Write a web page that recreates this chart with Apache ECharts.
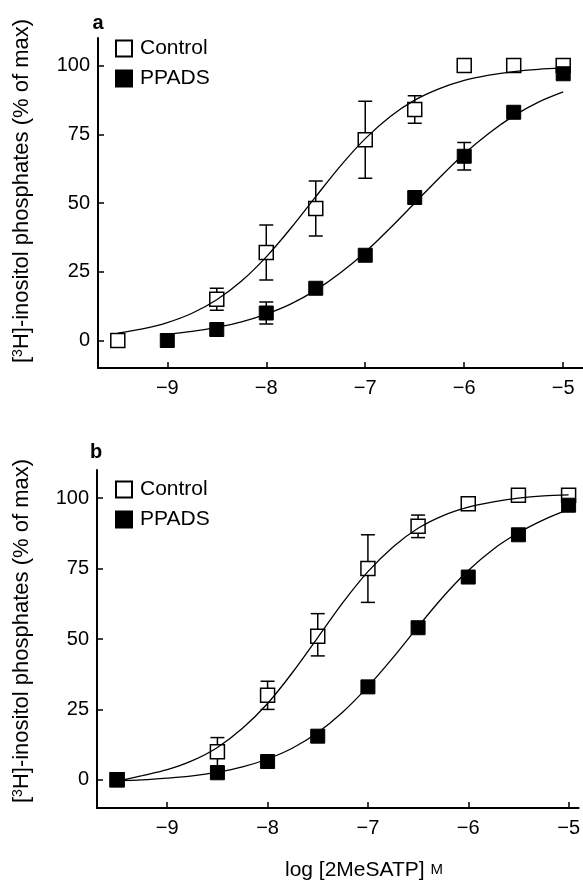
<!DOCTYPE html>
<html>
<head>
<meta charset="utf-8">
<script src="https://cdn.jsdelivr.net/npm/echarts@6/dist/echarts.min.js"></script>
<style>
  html, body { margin: 0; padding: 0; background: #fff; }
  #chart { width: 583px; height: 881px; }
</style>
</head>
<body>
<div id="chart"></div>
<script>
const FONT = '"Liberation Sans", Arial, sans-serif';

// tick labels
const xTicks = [-9, -8, -7, -6, -5];
const yTicks = [0, 25, 50, 75, 100];

// panel a: measured points
const ctrlAX = [-9.5, -8.5, -8, -7.5, -7, -6.5, -6, -5.5, -5];
const ctrlAY = [0, 15, 32, 48, 73, 84, 100, 100, 100];
const ctrlAErr = [[-8.5, 11, 19], [-8, 22, 42], [-7.5, 38, 58], [-7, 59, 87], [-6.5, 79, 89]];
const ppadsAX = [-9, -8.5, -8, -7.5, -7, -6.5, -6, -5.5, -5];
const ppadsAY = [0, 4, 10, 19, 31, 52, 67, 83, 97];
const ppadsAErr = [[-8, 6, 14], [-6, 62, 72]];

// panel a: fitted curves
const fitCtrlAX = [-9.5, -9.25, -9, -8.75, -8.5, -8.25, -8, -7.75, -7.5, -7.25, -7, -6.75, -6.5, -6.25, -6, -5.75, -5.5, -5.25, -5];
const fitCtrlAY = [2.7, 4.2, 6.5, 9.9, 14.8, 21.6, 30.4, 40.9, 52.3, 63.5, 73.4, 81.4, 87.4, 91.6, 94.6, 96.5, 97.8, 98.6, 99.1];
const fitPpadsAX = [-9, -8.75, -8.5, -8.25, -8, -7.75, -7.5, -7.25, -7, -6.75, -6.5, -6.25, -6, -5.75, -5.5, -5.25, -5];
const fitPpadsAY = [2.3, 3.3, 4.8, 6.8, 9.6, 13.3, 18.3, 24.6, 32.1, 40.8, 50, 59.2, 67.9, 75.4, 81.7, 86.7, 90.4];

// panel b: measured points
const ctrlBX = [-9.5, -8.5, -8, -7.5, -7, -6.5, -6, -5.5, -5];
const ctrlBY = [0, 10, 30, 51, 75, 90, 98, 101, 101];
const ctrlBErr = [[-8.5, 5, 15], [-8, 25, 35], [-7.5, 44, 59], [-7, 63, 87], [-6.5, 86, 94]];
const ppadsBX = [-9.5, -8.5, -8, -7.5, -7, -6.5, -6, -5.5, -5];
const ppadsBY = [0, 2.5, 6.5, 15.5, 33, 54, 72, 87, 97.5];
const ppadsBErr = [];

// panel b: fitted curves
const fitCtrlBX = [-9.5, -9.25, -9, -8.75, -8.5, -8.25, -8, -7.75, -7.5, -7.25, -7, -6.75, -6.5, -6.25, -6, -5.75, -5.5, -5.25, -5];
const fitCtrlBY = [-0.5, 1.5, 3.6, 6.8, 11.5, 18.3, 27.1, 38.2, 50.5, 62.9, 73.9, 82.7, 89.3, 93.8, 96.8, 98.7, 100, 100.8, 101.2];
const fitPpadsBX = [-9.5, -9.25, -9, -8.75, -8.5, -8.25, -8, -7.75, -7.5, -7.25, -7, -6.75, -6.5, -6.25, -6, -5.75, -5.5, -5.25, -5];
const fitPpadsBY = [-0.3, 0.0, 0.6, 1.4, 2.7, 4.6, 7.4, 11.3, 16.8, 24.1, 33.1, 43.4, 54.4, 65, 74.3, 81.9, 87.7, 92.3, 96];

const zip = (xs, ys) => xs.map((x, i) => [x, ys[i]]);

const mkX = (gi, min, max) => ({
  type: 'value', gridIndex: gi, min, max,
  axisLine: { onZero: false, lineStyle: { color: '#000', width: 2 } },
  axisTick: { inside: true, length: 6, customValues: xTicks, lineStyle: { color: '#000', width: 1.5 } },
  axisLabel: {
    customValues: xTicks, fontSize: 20, color: '#000', margin: 10, fontFamily: FONT,
    formatter: (v) => '\u2212' + Math.abs(v)
  },
  splitLine: { show: false }
});

const mkY = (gi) => ({
  type: 'value', gridIndex: gi, min: -10, max: 110,
  axisLine: { onZero: false, lineStyle: { color: '#000', width: 2 } },
  axisTick: { inside: true, length: 6, customValues: yTicks, lineStyle: { color: '#000', width: 1.5 } },
  axisLabel: { customValues: yTicks, fontSize: 20, color: '#000', margin: 8, fontFamily: FONT },
  splitLine: { show: false }
});

const mkLegend = (top) => ({
  data: ['Control', 'PPADS'],
  orient: 'vertical', left: 115, top,
  itemWidth: 16, itemHeight: 16, itemGap: 9, padding: 0,
  selectedMode: false,
  textStyle: { fontSize: 21, color: '#000', fontFamily: FONT, padding: [0, 0, 0, 3] }
});

const errBars = (gi, data) => ({
  type: 'custom', xAxisIndex: gi, yAxisIndex: gi, z: 2,
  data,
  renderItem: (params, api) => {
    const x = api.value(0);
    const lo = api.coord([x, api.value(1)]);
    const hi = api.coord([x, api.value(2)]);
    const w = 7;
    const st = { stroke: '#000', lineWidth: 1.5 };
    return {
      type: 'group',
      children: [
        { type: 'line', shape: { x1: lo[0], y1: lo[1], x2: hi[0], y2: hi[1] }, style: st },
        { type: 'line', shape: { x1: lo[0] - w, y1: lo[1], x2: lo[0] + w, y2: lo[1] }, style: st },
        { type: 'line', shape: { x1: hi[0] - w, y1: hi[1], x2: hi[0] + w, y2: hi[1] }, style: st }
      ]
    };
  }
});

const fit = (gi, xs, ys) => ({
  type: 'line', xAxisIndex: gi, yAxisIndex: gi, z: 6,
  data: zip(xs, ys), smooth: 0.3, symbol: 'none',
  lineStyle: { color: '#000', width: 1.3 }
});

const pts = (gi, name, xs, ys, filled) => ({
  type: 'scatter', name, xAxisIndex: gi, yAxisIndex: gi, z: filled ? 5 : 4,
  data: zip(xs, ys), symbol: 'rect', symbolSize: 14,
  itemStyle: filled
    ? { color: '#000', borderColor: '#000', borderWidth: 1, opacity: 1 }
    : { color: '#fff', borderColor: '#000', borderWidth: 1.5, opacity: 1 }
});

const textStyle = (text, size, extra) => Object.assign({
  text, fontSize: size, fontFamily: FONT, fill: '#000',
  align: 'center', verticalAlign: 'middle',
  textAlign: 'center', textVerticalAlign: 'middle'
}, extra || {});

const yTitle = '[{sup|3}H]-inositol phosphates (% of max)';
const supRich = { sup: { fontSize: 14, verticalAlign: 'top', fontFamily: FONT, fill: '#000' } };

const option = {
  animation: false,
  backgroundColor: '#fff',
  grid: [
    { left: 98, top: 38, width: 485, height: 330 },
    { left: 97, top: 470, width: 486, height: 338 }
  ],
  xAxis: [mkX(0, -9.7, -4.8), mkX(1, -9.7, -4.9)],
  yAxis: [mkY(0), mkY(1)],
  legend: [mkLegend(38), mkLegend(479)],
  graphic: [
    { type: 'text', x: 98, y: 23, style: textStyle('a', 20, { fontWeight: 'bold' }) },
    { type: 'text', x: 96, y: 452, style: textStyle('b', 20, { fontWeight: 'bold' }) },
    { type: 'text', x: 22, y: 191, rotation: Math.PI / 2, style: textStyle(yTitle, 22, { rich: supRich }) },
    { type: 'text', x: 22, y: 631, rotation: Math.PI / 2, style: textStyle(yTitle, 22, { rich: supRich }) },
    { type: 'text', x: 364, y: 870, style: textStyle('log [2MeSATP] {sc|M}', 21, { rich: { sc: { fontSize: 15, fontFamily: FONT, fill: '#000' } } }) }
  ],
  series: [
    errBars(0, ctrlAErr),
    errBars(0, ppadsAErr),
    fit(0, fitCtrlAX, fitCtrlAY),
    fit(0, fitPpadsAX, fitPpadsAY),
    pts(0, 'Control', ctrlAX, ctrlAY, false),
    pts(0, 'PPADS', ppadsAX, ppadsAY, true),

    errBars(1, ctrlBErr),
    errBars(1, ppadsBErr),
    fit(1, fitCtrlBX, fitCtrlBY),
    fit(1, fitPpadsBX, fitPpadsBY),
    pts(1, 'Control', ctrlBX, ctrlBY, false),
    pts(1, 'PPADS', ppadsBX, ppadsBY, true)
  ]
};

const chart = echarts.init(document.getElementById('chart'), null, { renderer: 'canvas' });
chart.setOption(option);
</script>
</body>
</html>
